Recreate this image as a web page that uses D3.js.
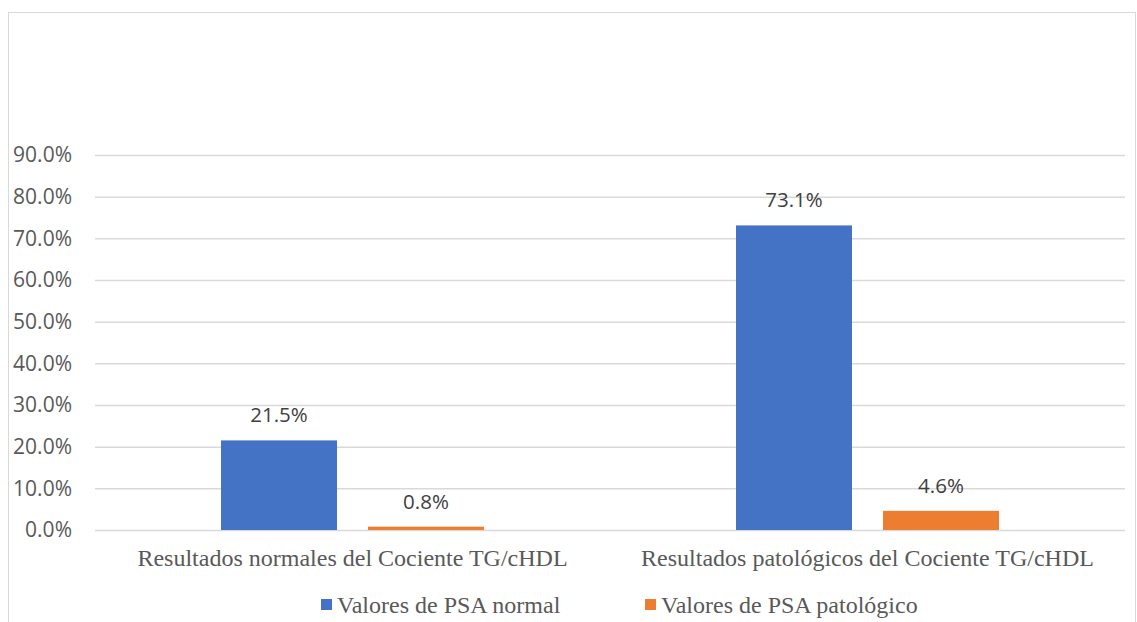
<!DOCTYPE html>
<html>
<head>
<meta charset="utf-8">
<script src="https://cdn.jsdelivr.net/npm/d3@7"></script>
<style>
  html, body { margin: 0; padding: 0; background: #fff; }
  svg { display: block; }
</style>
</head>
<body>
<svg id="chart" width="1137" height="622"></svg>
<script>
// Chart data
const categories = [
  "Resultados normales del Cociente TG/cHDL",
  "Resultados patológicos del Cociente TG/cHDL"
];
const seriesNames = ["Valores de PSA normal", "Valores de PSA patológico"];
const psaNormal = [21.5, 73.1];
const psaPatologico = [0.8, 4.6];
const tickValues = [0, 10, 20, 30, 40, 50, 60, 70, 80, 90];

const colors = ["#4472c4", "#ed7d31"];
const seriesValues = [psaNormal, psaPatologico];

const svg = d3.select("#chart");
const W = 1137, H = 622;

// Outer chart frame
svg.append("rect")
  .attr("x", 8.5).attr("y", 12.5)
  .attr("width", W - 10).attr("height", H)
  .attr("fill", "none").attr("stroke", "#d9d9d9").attr("stroke-width", 1);

const plot = { left: 95, right: 1125, top: 155, bottom: 530 };

const y = d3.scaleLinear().domain([0, 90]).range([plot.bottom, plot.top]);
const x0 = d3.scaleBand().domain(categories).range([plot.left, plot.right]).paddingInner(0).paddingOuter(0);
const x1 = d3.scaleBand().domain(seriesNames).range([0, x0.bandwidth()])
  .paddingInner(31 / 147).paddingOuter(126 / 147);

// Gridlines and y tick labels
const yAxis = d3.axisLeft(y)
  .tickValues(tickValues)
  .tickSize(-(plot.right - plot.left))
  .tickPadding(23)
  .tickFormat(d => d3.format(".1f")(d) + "%");

const gy = svg.append("g")
  .attr("transform", `translate(${plot.left},0)`)
  .call(yAxis);
gy.select(".domain").remove();
gy.selectAll(".tick line").attr("stroke", "#d9d9d9").attr("stroke-width", 1.5);
gy.selectAll(".tick text")
  .attr("fill", "#595959")
  .style("font-family", "'Open Sans', 'Noto Sans', sans-serif")
  .style("font-size", "21px");

// Bars
const groups = svg.append("g").selectAll("g")
  .data(categories)
  .join("g")
  .attr("transform", d => `translate(${x0(d)},0)`);

groups.selectAll("rect")
  .data((d, i) => seriesNames.map((s, j) => ({ s, v: seriesValues[j][i], c: colors[j] })))
  .join("rect")
  .attr("x", d => x1(d.s))
  .attr("width", x1.bandwidth())
  .attr("y", d => y(d.v))
  .attr("height", d => y(0) - y(d.v))
  .attr("fill", d => d.c);

// Value labels
groups.selectAll("text.val")
  .data((d, i) => seriesNames.map((s, j) => ({ s, v: seriesValues[j][i] })))
  .join("text")
  .attr("class", "val")
  .attr("x", d => x1(d.s) + x1.bandwidth() / 2)
  .attr("y", d => y(d.v) - 18)
  .attr("text-anchor", "middle")
  .attr("fill", "#404040")
  .style("font-family", "'Open Sans', 'Noto Sans', sans-serif")
  .style("font-size", "20.5px")
  .text(d => d3.format(".1f")(d.v) + "%");

// Category labels
const xAxis = d3.axisBottom(x0).tickSize(0).tickPadding(19);
const gx = svg.append("g")
  .attr("transform", `translate(0,${plot.bottom})`)
  .call(xAxis);
gx.select(".domain").remove();
gx.selectAll(".tick text")
  .attr("fill", "#595959")
  .style("font-family", "'Liberation Serif', 'Times New Roman', serif")
  .style("font-size", "24px");

// Legend
const legendItems = [
  { name: seriesNames[0], color: colors[0], x: 321 },
  { name: seriesNames[1], color: colors[1], x: 645 }
];
const lg = svg.append("g").selectAll("g")
  .data(legendItems)
  .join("g")
  .attr("transform", d => `translate(${d.x},599)`);
lg.append("rect").attr("width", 11).attr("height", 11).attr("fill", d => d.color);
lg.append("text")
  .attr("x", 16).attr("y", 14)
  .attr("fill", "#595959")
  .style("font-family", "'Liberation Serif', 'Times New Roman', serif")
  .style("font-size", "24px")
  .text(d => d.name);
</script>
</body>
</html>
